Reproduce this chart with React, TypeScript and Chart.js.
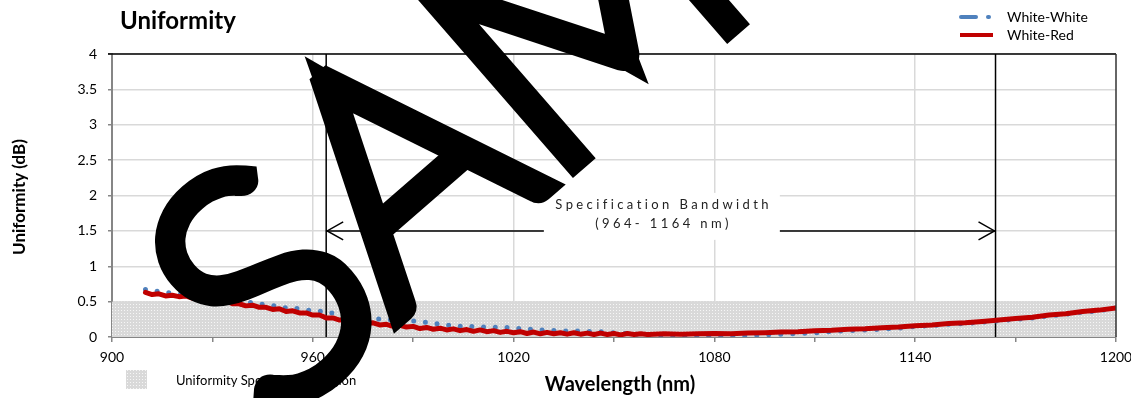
import React, { useEffect, useRef } from 'react';
import { Chart, registerables } from 'chart.js';

Chart.register(...registerables);

// ---- data ----
const wavelengths = [
  910, 912, 914, 916, 918, 920, 922, 924, 926, 928,
  930, 932, 934, 936, 938, 940, 942, 944, 946, 948,
  950, 952, 954, 956, 958, 960, 962, 964, 966, 968,
  970, 972, 974, 976, 978, 980, 982, 984, 986, 988,
  990, 992, 994, 996, 998, 1000, 1002, 1004, 1006, 1008,
  1010, 1012, 1014, 1016, 1018, 1020, 1022, 1024, 1026, 1028,
  1030, 1032, 1034, 1036, 1038, 1040, 1042, 1044, 1046, 1048,
  1050, 1052, 1054, 1056, 1058, 1060,
  1065, 1070, 1075, 1080, 1085, 1090, 1095, 1100, 1105, 1110,
  1115, 1120, 1125, 1130, 1135, 1140, 1145, 1150, 1155, 1160,
  1165, 1170, 1175, 1180, 1185, 1190, 1195, 1200,
];

const whiteRed = [
  0.63, 0.60, 0.61, 0.58, 0.59, 0.57, 0.58, 0.55, 0.55, 0.53,
  0.54, 0.50, 0.51, 0.47, 0.47, 0.44, 0.45, 0.42, 0.42, 0.39,
  0.40, 0.36, 0.37, 0.34, 0.34, 0.31, 0.31, 0.27, 0.27, 0.24,
  0.24, 0.21, 0.22, 0.19, 0.20, 0.17, 0.18, 0.15, 0.165, 0.14,
  0.15, 0.12, 0.135, 0.11, 0.125, 0.10, 0.115, 0.09, 0.105, 0.08,
  0.10, 0.075, 0.09, 0.065, 0.08, 0.06, 0.075, 0.05, 0.07, 0.045,
  0.065, 0.045, 0.06, 0.04, 0.06, 0.04, 0.055, 0.035, 0.055, 0.035,
  0.05, 0.03, 0.05, 0.035, 0.045, 0.035,
  0.045, 0.04, 0.045, 0.05, 0.045, 0.055, 0.06, 0.07, 0.075, 0.09,
  0.095, 0.11, 0.115, 0.13, 0.14, 0.16, 0.17, 0.19, 0.20, 0.22,
  0.24, 0.26, 0.28, 0.31, 0.33, 0.36, 0.38, 0.41,
];

const whiteWhite = [
  0.67, 0.64, 0.65, 0.62, 0.63, 0.61, 0.62, 0.59, 0.60, 0.58,
  0.59, 0.55, 0.55, 0.51, 0.51, 0.48, 0.49, 0.46, 0.47, 0.44,
  0.45, 0.41, 0.42, 0.39, 0.39, 0.36, 0.37, 0.33, 0.34, 0.31,
  0.31, 0.29, 0.30, 0.27, 0.28, 0.25, 0.26, 0.23, 0.25, 0.22,
  0.23, 0.20, 0.21, 0.18, 0.19, 0.16, 0.18, 0.15, 0.17, 0.14,
  0.155, 0.13, 0.145, 0.12, 0.135, 0.11, 0.125, 0.10, 0.12, 0.095,
  0.11, 0.09, 0.10, 0.08, 0.095, 0.075, 0.085, 0.065, 0.075, 0.055,
  0.06, 0.045, 0.05, 0.035, 0.04, 0.025,
  0.02, 0.01, 0.015, 0.01, 0.015, 0.02, 0.03, 0.04, 0.05, 0.06,
  0.075, 0.09, 0.10, 0.11, 0.125, 0.15, 0.16, 0.18, 0.19, 0.21,
  0.23, 0.25, 0.27, 0.30, 0.32, 0.35, 0.37, 0.41,
];

const specRegionX = [900, 1200];
const specRegionY = [0.5, 0.5];
const bandwidth = [964, 1164];
const bandwidthArrowLevel = 1.5;
const bandwidthText = ['Specification Bandwidth', '(964- 1164 nm)'];

const xTickValues = [900, 930, 960, 990, 1020, 1050, 1080, 1110, 1140, 1170, 1200];
const xLabelValues = [900, 960, 1020, 1080, 1140, 1200];
const yMin = 0;
const yMax = 4;
const yStep = 0.5;

const titleText = 'Uniformity';
const xTitle = 'Wavelength (nm)';
const yTitle = 'Uniformity (dB)';
const seriesNames = ['White-White', 'White-Red', 'Uniformity Specification Region'];
const watermarkText = 'SAMPLE';

const FONT = 'Lato, "Open Sans", sans-serif';
const BLUE = '#4F81BD';
const RED = '#C00000';

function makePattern(): CanvasPattern | string {
  const c = document.createElement('canvas');
  c.width = 3;
  c.height = 3;
  const g = c.getContext('2d');
  if (!g) return '#dcdcdc';
  g.fillStyle = '#d9d9d9';
  g.fillRect(0, 0, 3, 3);
  g.fillStyle = '#f6f6f6';
  g.fillRect(1, 1, 1, 1);
  const p = g.createPattern(c, 'repeat');
  return p || '#dcdcdc';
}

function spacedText(ctx: CanvasRenderingContext2D, text: string, cx: number, cy: number, spacing: number) {
  const chars = Array.from(text);
  const widths = chars.map((ch) => ctx.measureText(ch).width);
  const total = widths.reduce((a, b) => a + b, 0) + spacing * (chars.length - 1);
  let xp = cx - total / 2;
  ctx.textAlign = 'left';
  chars.forEach((ch, i) => {
    ctx.fillText(ch, xp, cy);
    xp += widths[i] + spacing;
  });
}

export default function App() {
  const ref = useRef<HTMLCanvasElement | null>(null);

  useEffect(() => {
    const canvas = ref.current;
    if (!canvas) return;
    const pattern = makePattern();

    const decor = {
      id: 'decor',
      afterDatasetDraw(chart: any, args: any) {
        if (args.index !== 2) return;
        const { ctx, chartArea: a, scales } = chart;
        const x = scales.x;
        const y = scales.y;
        ctx.save();
        ctx.strokeStyle = '#000';
        ctx.lineWidth = 1.5;
        bandwidth.forEach((v) => {
          const px = x.getPixelForValue(v);
          ctx.beginPath();
          ctx.moveTo(px, a.top);
          ctx.lineTo(px, a.bottom);
          ctx.stroke();
        });
        const ay = y.getPixelForValue(bandwidthArrowLevel);
        const x1 = x.getPixelForValue(bandwidth[0]);
        const x2 = x.getPixelForValue(bandwidth[1]);
        ctx.beginPath();
        ctx.moveTo(x1, ay);
        ctx.lineTo(x2, ay);
        ctx.stroke();
        ctx.beginPath();
        ctx.moveTo(x1 + 17, ay - 9);
        ctx.lineTo(x1 + 1, ay);
        ctx.lineTo(x1 + 17, ay + 9);
        ctx.moveTo(x2 - 17, ay - 9);
        ctx.lineTo(x2 - 1, ay);
        ctx.lineTo(x2 - 17, ay + 9);
        ctx.stroke();
        const cx = (x1 + x2) / 2;
        ctx.fillStyle = '#fff';
        ctx.fillRect(cx - 117, ay - 38, 236, 47);
        ctx.fillStyle = '#222';
        ctx.font = `13px ${FONT}`;
        ctx.textBaseline = 'middle';
        spacedText(ctx, bandwidthText[0], cx + 1, ay - 26, 3.4);
        spacedText(ctx, bandwidthText[1], cx + 1, ay - 7, 3.4);
        ctx.restore();
      },
      afterDraw(chart: any) {
        const { ctx, chartArea: a } = chart;
        ctx.save();
        // frame top/right
        ctx.strokeStyle = '#000';
        ctx.lineWidth = 1.5;
        ctx.beginPath();
        ctx.moveTo(a.left - 4, a.top);
        ctx.lineTo(a.right, a.top);
        ctx.stroke();
        ctx.strokeStyle = '#333';
        ctx.lineWidth = 1.5;
        ctx.beginPath();
        ctx.moveTo(a.right, a.top);
        ctx.lineTo(a.right, a.bottom);
        ctx.stroke();

        // title
        ctx.fillStyle = '#000';
        ctx.textBaseline = 'middle';
        ctx.textAlign = 'left';
        ctx.font = `bold 24px ${FONT}`;
        ctx.fillText(titleText, 120, 21);

        // axis titles
        ctx.font = `bold 20px ${FONT}`;
        ctx.textAlign = 'center';
        ctx.fillText(xTitle, 620, 385);
        ctx.save();
        ctx.translate(20, 197);
        ctx.rotate(-Math.PI / 2);
        ctx.font = `bold 17px ${FONT}`;
        ctx.fillText(yTitle, 0, 0);
        ctx.restore();

        // top-right legend
        ctx.lineCap = 'round';
        ctx.strokeStyle = BLUE;
        ctx.lineWidth = 4;
        ctx.beginPath();
        ctx.moveTo(961, 17);
        ctx.lineTo(976, 17);
        ctx.stroke();
        ctx.beginPath();
        ctx.moveTo(988, 17);
        ctx.lineTo(989, 17);
        ctx.stroke();
        ctx.strokeStyle = RED;
        ctx.lineCap = 'butt';
        ctx.beginPath();
        ctx.moveTo(960, 35);
        ctx.lineTo(993, 35);
        ctx.stroke();
        ctx.fillStyle = '#000';
        ctx.textAlign = 'left';
        ctx.font = `14px ${FONT}`;
        ctx.fillText(seriesNames[0], 1007, 17);
        ctx.fillText(seriesNames[1], 1007, 35);

        // bottom-left legend
        ctx.fillStyle = pattern as any;
        ctx.fillRect(126, 370, 21, 19);
        ctx.fillStyle = '#000';
        ctx.font = `13px ${FONT}`;
        ctx.fillText(seriesNames[2], 176, 381);

        // watermark
        ctx.save();
        const ang = (-41 * Math.PI) / 180;
        ctx.font = '100 315px Lato';
        const wS = ctx.measureText(watermarkText[0]).width;
        const capH = 0.72 * 315;
        const dir = [Math.cos(ang), Math.sin(ang)];
        const up = [Math.sin(ang), -Math.cos(ang)];
        const sc = [260, 282];
        const sx = sc[0] - (wS / 2) * dir[0] - (capH / 2) * up[0];
        const sy = sc[1] - (wS / 2) * dir[1] - (capH / 2) * up[1];
        ctx.translate(sx, sy);
        ctx.rotate(ang);
        ctx.textAlign = 'left';
        ctx.textBaseline = 'alphabetic';
        ctx.lineJoin = 'miter';
        ctx.lineWidth = 27;
        ctx.fillStyle = '#000';
        ctx.strokeStyle = '#000';
        ctx.fillText(watermarkText, 0, 0);
        ctx.strokeText(watermarkText, 0, 0);
        ctx.restore();

        ctx.restore();
      },
    };

    const chart = new Chart(canvas, {
      type: 'line',
      data: {
        datasets: [
          {
            label: seriesNames[1],
            data: wavelengths.map((x, i) => ({ x, y: whiteRed[i] })),
            borderColor: RED,
            borderWidth: 5,
            pointRadius: 0,
            tension: 0,
            borderJoinStyle: 'round',
            borderCapStyle: 'round',
            fill: false,
            order: 0,
          },
          {
            label: seriesNames[0],
            data: wavelengths.map((x, i) => ({ x, y: whiteWhite[i] })),
            borderColor: BLUE,
            borderWidth: 5,
            borderDash: [0, 12],
            borderCapStyle: 'round',
            pointRadius: 0,
            tension: 0,
            fill: false,
            order: 1,
          },
          {
            label: seriesNames[2],
            data: specRegionX.map((x, i) => ({ x, y: specRegionY[i] })),
            borderWidth: 0,
            borderColor: 'rgba(0,0,0,0)',
            backgroundColor: pattern as any,
            pointRadius: 0,
            fill: 'origin',
            order: 2,
          },
        ],
      },
      options: {
        animation: false,
        responsive: false,
        maintainAspectRatio: false,
        layout: { padding: { left: 0, right: 15, top: 54, bottom: 0 } },
        plugins: {
          legend: { display: false },
          title: { display: false },
          tooltip: { enabled: false },
        },
        scales: {
          x: {
            type: 'linear',
            min: 900,
            max: 1200,
            afterBuildTicks: (scale: any) => {
              scale.ticks = xTickValues.map((v) => ({ value: v }));
            },
            afterFit: (scale: any) => {
              scale.height = 61;
              scale.paddingLeft = 0;
              scale.paddingRight = 0;
            },
            grid: {
              color: (c: any) =>
                c.tick && xLabelValues.includes(c.tick.value) && c.tick.value !== 900 && c.tick.value !== 1200
                  ? '#d9d9d9'
                  : 'rgba(0,0,0,0)',
              lineWidth: 1.5,
              tickColor: '#868686',
              tickLength: 5,
            },
            border: { display: true, color: '#868686', width: 2 },
            ticks: {
              autoSkip: false,
              maxRotation: 0,
              padding: 7,
              color: '#000',
              font: { family: FONT, size: 14 },
              callback: (v: any) => (xLabelValues.includes(Number(v)) ? String(v) : ''),
            },
          },
          y: {
            type: 'linear',
            min: yMin,
            max: yMax,
            afterFit: (scale: any) => {
              scale.width = 112;
              scale.paddingTop = 0;
              scale.paddingBottom = 0;
            },
            grid: {
              color: (c: any) => (c.tick && c.tick.value === 0 ? 'rgba(0,0,0,0)' : '#d9d9d9'),
              lineWidth: 1.5,
              tickColor: '#868686',
              tickLength: 4,
            },
            border: { display: true, color: '#868686', width: 2 },
            ticks: {
              stepSize: yStep,
              padding: 11,
              color: '#000',
              font: { family: FONT, size: 14 },
              callback: (v: any) => String(v),
            },
          },
        },
      },
      plugins: [decor],
    } as any);

    return () => chart.destroy();
  }, []);

  return (
    <div style={{ position: 'fixed', left: 0, top: 0, width: 1131, height: 398, background: '#fff' }}>
      <canvas ref={ref} width={1131} height={398} style={{ display: 'block' }} />
    </div>
  );
}
